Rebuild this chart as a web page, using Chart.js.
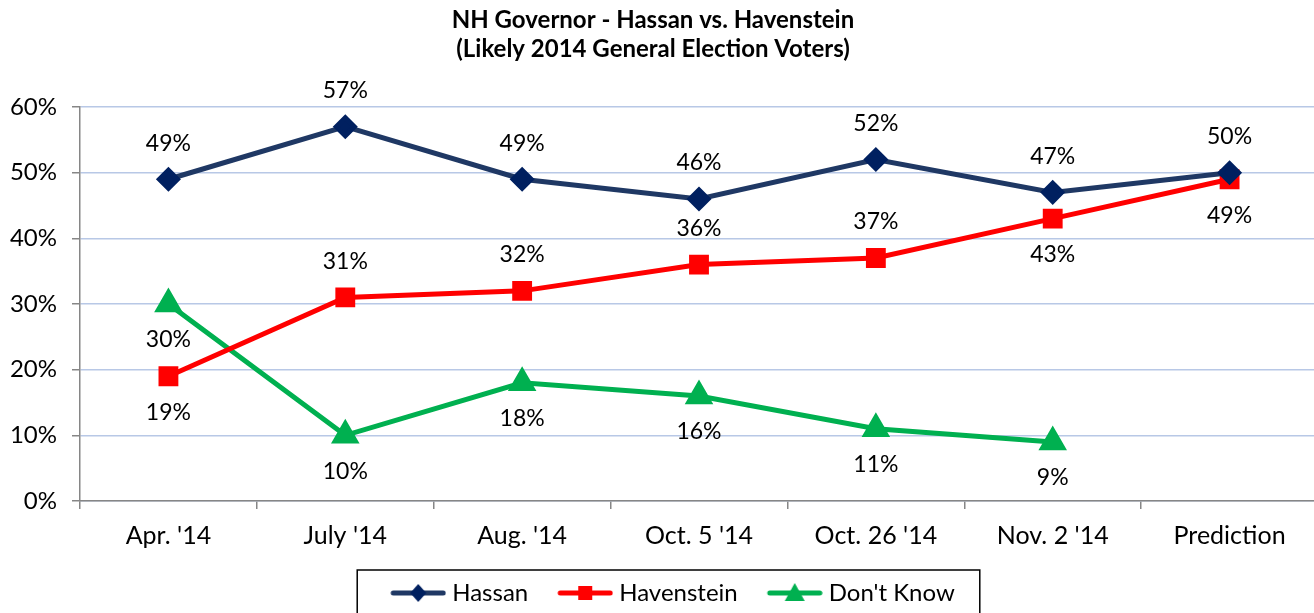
<!DOCTYPE html>
<html>
<head>
<meta charset="utf-8">
<script src="https://cdn.jsdelivr.net/npm/chart.js@4/dist/chart.umd.min.js"></script>
<style>
  html, body { margin: 0; padding: 0; background: #fff; overflow: hidden; }
  canvas { display: block; }
</style>
</head>
<body>
<canvas id="chart" width="1340" height="615" style="width:1340px;height:615px"></canvas>
<script>
const categories = ["Apr. '14", "July '14", "Aug. '14", "Oct. 5 '14", "Oct. 26 '14", "Nov. 2 '14", "Prediction"]
const hassan = [49, 57, 49, 46, 52, 47, 50]
const havenstein = [19, 31, 32, 36, 37, 43, 49]
const dontKnow = [30, 10, 18, 16, 11, 9, null]

const FONT = "Lato, 'Noto Sans', sans-serif"

// which side of the point each value label goes
const labelSide = {
  Hassan: ["up", "up", "up", "up", "up", "up", "up"],
  Havenstein: ["down", "up", "up", "up", "up", "down", "down"],
  "Don't Know": ["down", "down", "down", "down", "down", "down", "down"]
}

// line + marker swatch for the legend (left part left blank as spacing)
function legendIcon(ds) {
  const c = document.createElement("canvas")
  c.width = 67
  c.height = 24
  const g = c.getContext("2d")
  g.translate(11, 0)
  g.strokeStyle = ds.borderColor
  g.lineWidth = 5
  g.lineCap = "round"
  g.beginPath()
  g.moveTo(3, 12)
  g.lineTo(53, 12)
  g.stroke()
  g.fillStyle = ds.pointBackgroundColor
  g.beginPath()
  if (ds.pointStyle === "rectRot") {
    g.moveTo(28, 3); g.lineTo(36, 12); g.lineTo(28, 21); g.lineTo(20, 12)
  } else if (ds.pointStyle === "rect") {
    g.rect(21, 5, 14, 14)
  } else {
    g.moveTo(28, 2); g.lineTo(38, 20); g.lineTo(18, 20)
  }
  g.closePath()
  g.fill()
  return c
}

const valueLabels = {
  id: "valueLabels",
  afterDatasetsDraw(chart) {
    const ctx = chart.ctx
    ctx.save()
    ctx.font = "23px " + FONT
    ctx.fillStyle = "#000"
    ctx.textAlign = "center"
    ctx.textBaseline = "middle"
    chart.data.datasets.forEach((ds, i) => {
      const meta = chart.getDatasetMeta(i)
      meta.data.forEach((pt, j) => {
        const v = ds.data[j]
        if (v === null || v === undefined) return
        const dy = labelSide[ds.label][j] === "up" ? -36 : 36
        ctx.fillText(v + "%", pt.x, pt.y + dy)
      })
    })
    ctx.restore()
  }
}

// the original title sits a bit left of the legend's centre
const titleShift = {
  id: "titleShift",
  afterLayout(chart) {
    if (!chart.titleBlock) return
    chart.titleBlock.left -= 17
    chart.titleBlock.right -= 17
  }
}

const legendBox = {
  id: "legendBox",
  afterDraw(chart) {
    const lg = chart.legend
    if (!lg || !lg.legendHitBoxes.length) return
    const boxes = lg.legendHitBoxes
    const first = boxes[0]
    const last = boxes[boxes.length - 1]
    const ctx = chart.ctx
    ctx.save()
    ctx.strokeStyle = "#000"
    ctx.lineWidth = 1.5
    ctx.strokeRect(first.left - 28, first.top - 11, last.left + last.width - first.left + 53, 60)
    ctx.restore()
  }
}

new Chart(document.getElementById("chart"), {
  type: "line",
  data: {
    labels: categories,
    datasets: [
      {
        label: "Hassan",
        data: hassan,
        borderColor: "#1f3864",
        backgroundColor: "#002060",
        pointBackgroundColor: "#002060",
        pointBorderColor: "#002060",
        pointStyle: "rectRot",
        pointRadius: 9,
        borderWidth: 5
      },
      {
        label: "Havenstein",
        data: havenstein,
        borderColor: "#ff0000",
        backgroundColor: "#ff0000",
        pointBackgroundColor: "#ff0000",
        pointBorderColor: "#ff0000",
        pointStyle: "rect",
        pointRadius: 10.5,
        borderWidth: 5
      },
      {
        label: "Don't Know",
        data: dontKnow,
        borderColor: "#00b050",
        backgroundColor: "#00b050",
        pointBackgroundColor: "#00b050",
        pointBorderColor: "#00b050",
        pointStyle: "triangle",
        pointRadius: 11.5,
        borderWidth: 5
      }
    ]
  },
  options: {
    responsive: false,
    animation: false,
    layout: { padding: 0 },
    plugins: {
      title: {
        display: true,
        text: ["NH Governor - Hassan vs. Havenstein", "(Likely 2014 General Election Voters)"],
        color: "#000",
        font: { family: FONT, size: 24, weight: "bold", lineHeight: 1.2 },
        padding: { top: 6, bottom: 43.4 }
      },
      legend: {
        position: "bottom",
        labels: {
          color: "#000",
          font: { family: FONT, size: 24 },
          usePointStyle: true,
          pointStyleWidth: 55,
          padding: 24,
          generateLabels(chart) {
            return chart.data.datasets.map((ds, i) => ({
              text: ds.label,
              pointStyle: legendIcon(ds),
              fillStyle: ds.backgroundColor,
              strokeStyle: ds.borderColor,
              lineWidth: 0,
              hidden: false,
              datasetIndex: i,
              fontColor: "#000"
            }))
          }
        }
      },
      tooltip: { enabled: false }
    },
    scales: {
      x: {
        offset: true,
        afterFit(scale) {
          scale.height = 56
          scale.paddingLeft = 0
          scale.paddingRight = 22
        },
        grid: {
          offset: true,
          drawOnChartArea: false,
          color: "#868686",
          tickColor: "#868686",
          tickLength: 8,
          lineWidth: 1.5
        },
        border: { color: "#868686", width: 1.5 },
        ticks: {
          color: "#000",
          font: { family: FONT, size: 25 },
          padding: 12,
          maxRotation: 0
        }
      },
      y: {
        min: 0,
        max: 60,
        afterFit(scale) { scale.width = 80 },
        grid: {
          color: "#b8c8e6",
          tickColor: "#868686",
          tickLength: 8,
          lineWidth: 1.5
        },
        border: { color: "#868686", width: 1.5 },
        ticks: {
          stepSize: 10,
          color: "#000",
          font: { family: FONT, size: 24 },
          padding: 15,
          callback: (v) => v + "%"
        }
      }
    }
  },
  plugins: [valueLabels, titleShift, legendBox]
})
</script>
</body>
</html>
